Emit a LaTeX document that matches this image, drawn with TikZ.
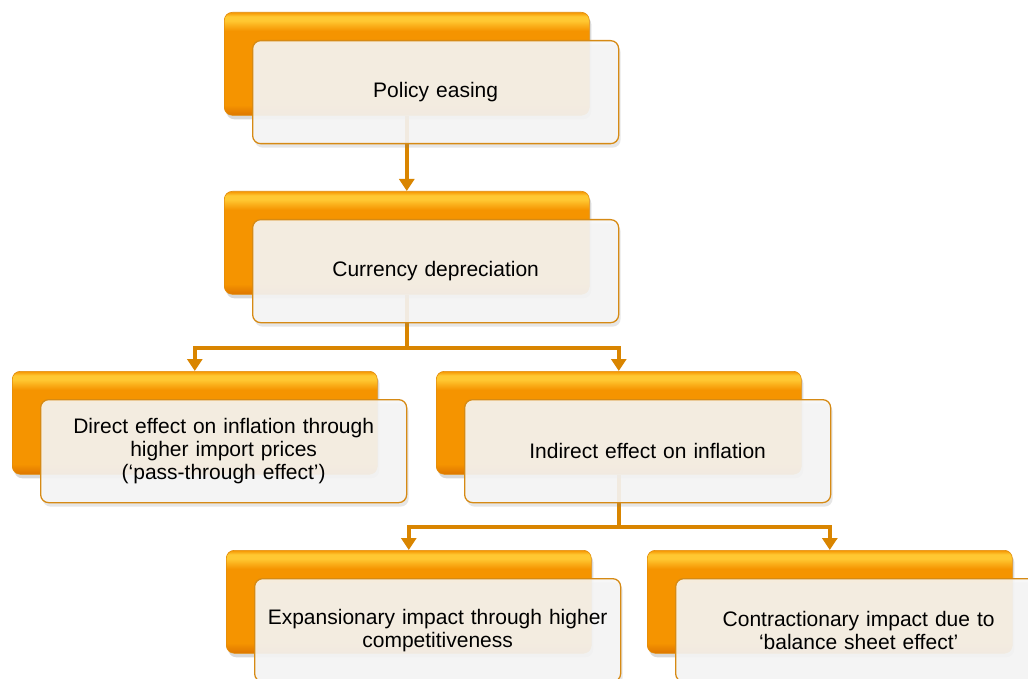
\documentclass[tikz,border=0pt]{standalone}
\usepackage{fontspec}
\setmainfont{Liberation Sans}
\usetikzlibrary{positioning,shadows,arrows.meta,backgrounds}

\definecolor{orangetop}{RGB}{255,200,50}
\definecolor{orangemid}{RGB}{245,148,0}
\definecolor{orangebot}{RGB}{222,118,0}
\definecolor{orangeedge}{RGB}{226,140,10}
\definecolor{frontedge}{RGB}{214,138,20}
\definecolor{frontfill}{RGB}{246,246,246}
\definecolor{linkcol}{RGB}{217,133,0}

% glossy fill of the back boxes (the path spans 25bp to 75bp)
\pgfdeclareverticalshading{orangegloss}{100bp}{color(0bp)=(orangebot);
  color(25bp)=(orangebot); color(30bp)=(orangemid); color(66bp)=(orangemid);
  color(71bp)=(orangetop); color(73bp)=(orangetop); color(75bp)=(orangemid);
  color(100bp)=(orangemid)}

\tikzset{
  backbox/.style={anchor=north west, minimum width=365pt, minimum height=103pt,
    inner sep=0pt, rounded corners=8pt, draw=orangeedge, line width=0.6pt,
    shading=orangegloss,
    drop shadow={shadow xshift=2pt, shadow yshift=-4pt, opacity=0.3}},
  frontbox/.style={minimum width=366pt, minimum height=103pt, inner sep=4pt,
    text width=356pt, align=center, rounded corners=8pt, draw=frontedge,
    line width=1.3pt, fill=frontfill, fill opacity=0.9, text opacity=1,
    font=\fontsize{21}{23}\selectfont,
    drop shadow={shadow xshift=2pt, shadow yshift=-4pt, opacity=0.2}},
  link/.style={draw=linkcol, line width=4pt,
    -{Triangle[width=15pt,length=12pt]}}
}

\begin{document}
\begin{tikzpicture}[x=1pt,y=-1pt]
  \useasboundingbox (0,0) rectangle (1028,679);
  \clip (0,0) rectangle (1028,679);

  % Orange back boxes
  \node[backbox] (pol) at (224,12) {};
  \node[backbox] (cur) at (224,191) {};
  \node[backbox] (dir) at (12,371) {};
  \node[backbox] (ind) at (436,371) {};
  \node[backbox] (exp) at (226,550) {};
  \node[backbox] (con) at (647,550) {};

  % Front boxes with the texts
  \node[frontbox, below right=28pt and 28pt of pol.north west] (polT) {Policy easing};
  \node[frontbox, below right=28pt and 28pt of cur.north west] (curT) {Currency depreciation};
  \node[frontbox, below right=28pt and 28pt of dir.north west] (dirT)
    {Direct effect on inflation through\\ higher import prices\\ (‘pass-through effect’)};
  \node[frontbox, below right=28pt and 28pt of ind.north west] (indT) {Indirect effect on inflation};
  \node[frontbox, below right=28pt and 28pt of exp.north west] (expT)
    {Expansionary impact through higher\\ competitiveness};
  \node[frontbox, below right=28pt and 28pt of con.north west] (conT)
    {Contractionary impact due to\\ ‘balance sheet effect’};

  % Connectors, behind the boxes
  \begin{scope}[on background layer]
    \draw[link] (pol.south) -- (cur.north);
    \draw[link] (cur.south) -- ++(0,53) coordinate (split1) -| (dir.north);
    \draw[link] (split1) -| (ind.north);
    \draw[link] (ind.south) -- ++(0,52) coordinate (split2) -| (exp.north);
    \draw[link] (split2) -| (con.north);
  \end{scope}
\end{tikzpicture}
\end{document}
